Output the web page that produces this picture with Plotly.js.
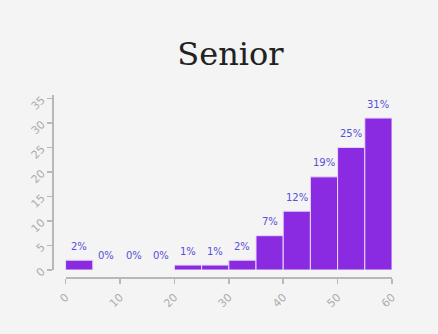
<!DOCTYPE html>
<html>
<head>
<meta charset="utf-8">
<script src="https://cdn.plot.ly/plotly-3.0.1.min.js"></script>
<style>
  html, body { margin: 0; padding: 0; background: #f4f4f4; }
  #chart { width: 438px; height: 334px; }
</style>
</head>
<body>
<div id="chart"></div>
<script>
// Histogram of ages (5-year bins), share of seniors per bin in percent
const binStarts = [0, 5, 10, 15, 20, 25, 30, 35, 40, 45, 50, 55];
const binWidth = 5;
const percents = [2, 0, 0, 0, 1, 1, 2, 7, 12, 19, 25, 31];
const xTicks = [0, 10, 20, 30, 40, 50, 60];
const yTicks = [0, 5, 10, 15, 20, 25, 30, 35];

const binCenters = binStarts.map(s => s + binWidth / 2);

const trace = {
  type: 'bar',
  x: binCenters,
  y: percents,
  width: binWidth,
  marker: {
    color: '#8a2be2',
    // empty bins get no outline so nothing is drawn for them
    line: { color: '#e6d9f7', width: percents.map(v => (v > 0 ? 1 : 0)) }
  },
  hoverinfo: 'none'
};

// percentage labels floating above each bar
const labels = binCenters.map((x, i) => ({
  x: x,
  y: percents[i],
  xref: 'x',
  yref: 'y',
  text: percents[i] + '%',
  showarrow: false,
  yanchor: 'middle',
  yshift: 14,
  font: { family: 'DejaVu Sans', size: 10, color: '#5650da' }
}));

const axisStyle = {
  showgrid: false,
  zeroline: false,
  showline: true,
  linecolor: '#b8b8b8',
  linewidth: 1.5,
  ticks: 'outside',
  ticklen: 5,
  tickwidth: 1.5,
  tickcolor: '#b8b8b8',
  tickangle: -45,
  ticklabelstandoff: 3,
  tickfont: { family: 'DejaVu Sans', size: 11, color: '#adadad' }
};

const layout = {
  width: 438,
  height: 334,
  paper_bgcolor: '#f4f4f4',
  plot_bgcolor: '#f4f4f4',
  margin: { l: 52, r: 46, t: 95, b: 57 },
  showlegend: false,
  bargap: 0,
  annotations: labels,
  title: {
    text: 'Senior',
    font: { family: 'DejaVu Serif', size: 32, color: '#222' },
    x: 0.525, xanchor: 'center', xref: 'paper',
    y: 0.84, yanchor: 'middle', yref: 'container'
  },
  xaxis: Object.assign({}, axisStyle, {
    range: [0, 60],
    domain: [0.04, 1],
    anchor: 'free',
    position: 0,
    tickvals: xTicks
  }),
  yaxis: Object.assign({}, axisStyle, {
    range: [0, 35.7],
    domain: [0.0385, 1],
    anchor: 'free',
    position: 0,
    tickvals: yTicks
  })
};

Plotly.newPlot('chart', [trace], layout, { displayModeBar: false, staticPlot: true });
</script>
</body>
</html>
